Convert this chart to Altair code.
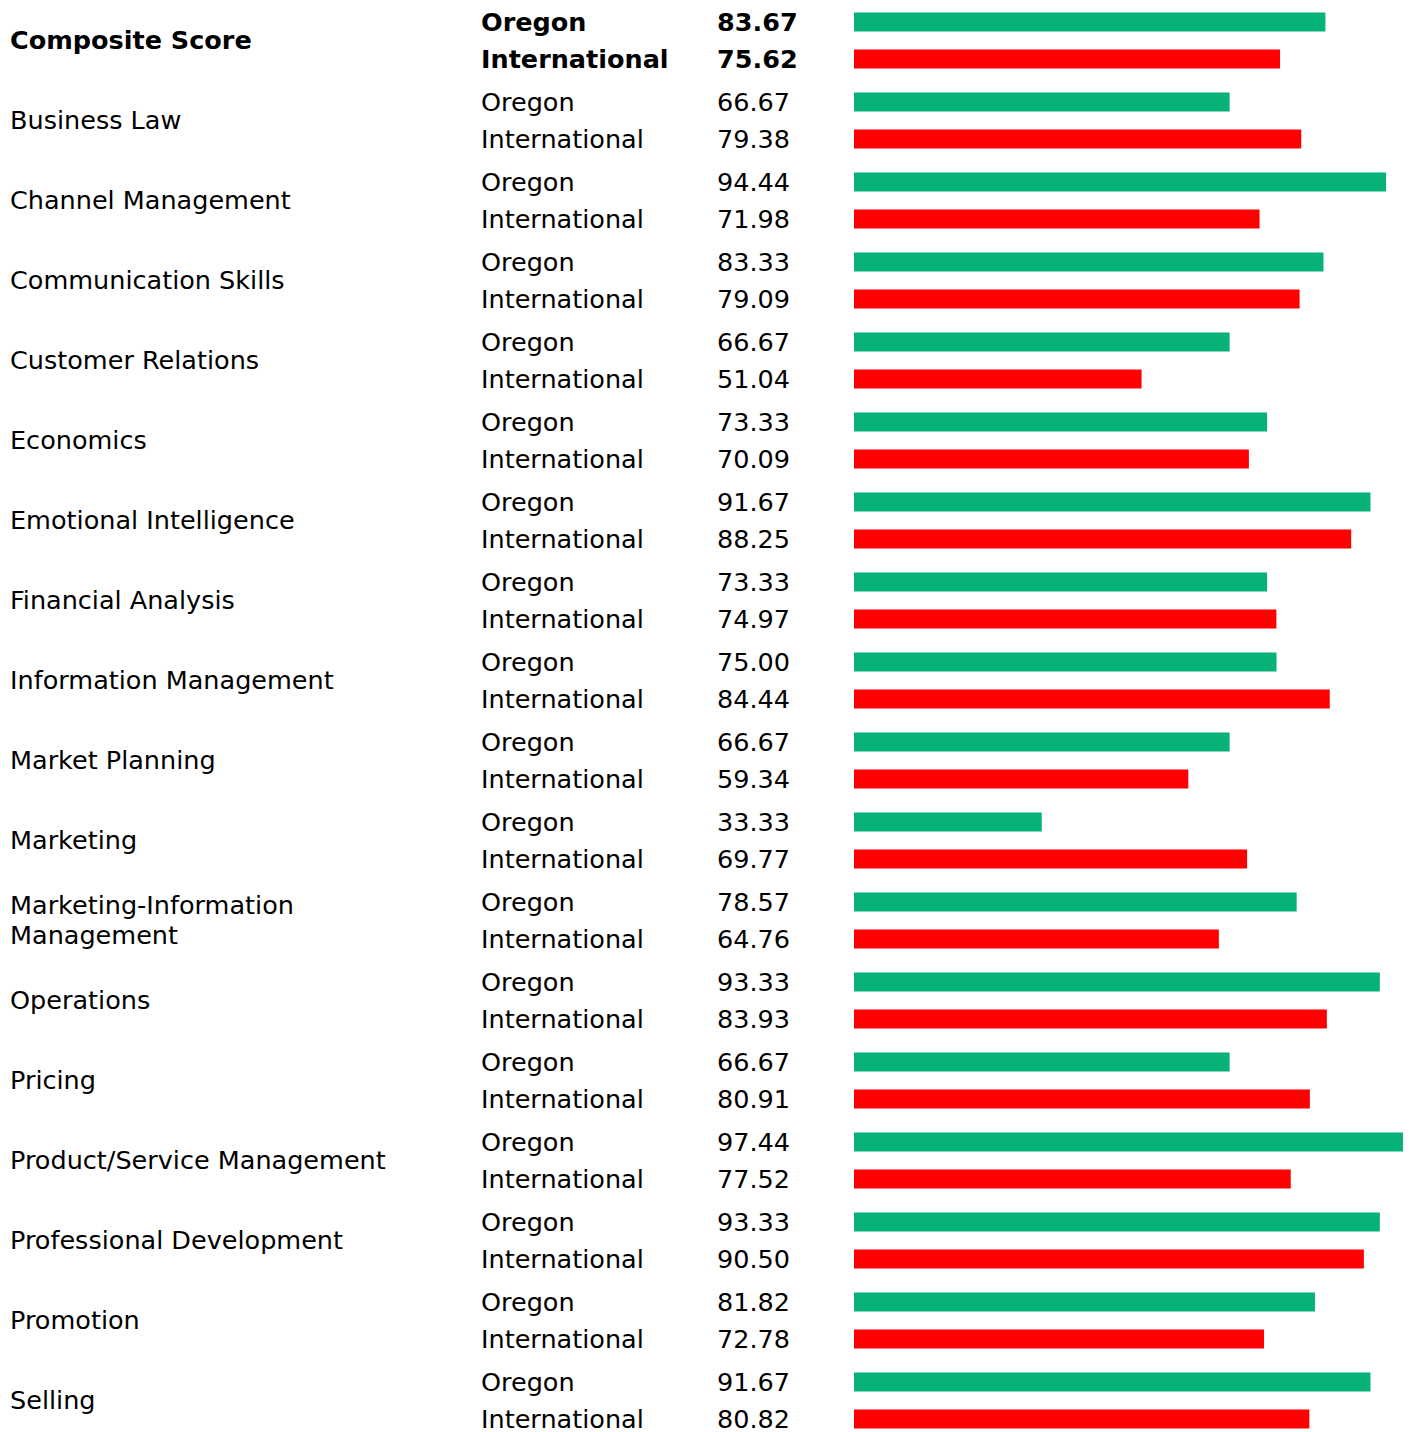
import altair as alt
import pandas as pd

categories = [
    "Composite Score", "Business Law", "Channel Management", "Communication Skills",
    "Customer Relations", "Economics", "Emotional Intelligence", "Financial Analysis",
    "Information Management", "Market Planning", "Marketing",
    "Marketing-Information\nManagement", "Operations", "Pricing",
    "Product/Service Management", "Professional Development", "Promotion", "Selling",
]
series = ["Oregon", "International"]
oregon = [83.67, 66.67, 94.44, 83.33, 66.67, 73.33, 91.67, 73.33, 75.00,
          66.67, 33.33, 78.57, 93.33, 66.67, 97.44, 93.33, 81.82, 91.67]
international = [75.62, 79.38, 71.98, 79.09, 51.04, 70.09, 88.25, 74.97, 84.44,
                 59.34, 69.77, 64.76, 83.93, 80.91, 77.52, 90.50, 72.78, 80.82]
colors = ["#06B27A", "#FF0000"]

rows = []
for i, c in enumerate(categories):
    rows.append({"category": c, "series": "Oregon", "value": oregon[i], "idx": i})
    rows.append({"category": c, "series": "International", "value": international[i], "idx": i})
df = pd.DataFrame(rows)
cat_df = pd.DataFrame({
    "category": categories,
    "idx": list(range(len(categories))),
    "multi": ["\n" in c for c in categories],
})

FONT = "DejaVu Sans"
FS = 25.5

y = alt.Y("category:N", sort=categories, axis=None,
          scale=alt.Scale(range=[-7.5, 1432.5], paddingInner=0, paddingOuter=0))
yoff = alt.YOffset("series:N", sort=series,
                   scale=alt.Scale(paddingInner=0, paddingOuter=0.081))

bars = alt.Chart(df).mark_bar(height=19).encode(
    x=alt.X("value:Q", axis=None, scale=alt.Scale(domain=[0, 100], range=[846, 1409.4])),
    y=y, yOffset=yoff,
    color=alt.Color("series:N", scale=alt.Scale(domain=series, range=colors), legend=None),
)

def txt(data, weight, filt, xpos, field, fmt=None, use_off=True, dy=1.3):
    t = alt.Text(field, format=fmt) if fmt else alt.Text(field)
    enc = dict(x=alt.value(xpos), y=y, text=t)
    if use_off:
        enc["yOffset"] = yoff
    return alt.Chart(data).transform_filter(filt).mark_text(
        align="left", baseline="middle", font=FONT, fontSize=FS, fontWeight=weight,
        color="black", lineBreak="\n", lineHeight=30, dy=dy,
    ).encode(**enc)

layers = [
    bars,
    txt(cat_df, "bold", "datum.idx == 0", 2, "category:N", use_off=False, dy=0),
    txt(cat_df, "normal", "datum.idx > 0 && !datum.multi", 2, "category:N", use_off=False, dy=0),
    txt(cat_df, "normal", "datum.multi", 2, "category:N", use_off=False, dy=-15),
    txt(df, "bold", "datum.idx == 0", 473, "series:N"),
    txt(df, "normal", "datum.idx > 0", 473, "series:N"),
    txt(df, "bold", "datum.idx == 0", 709, "value:Q", ".2f"),
    txt(df, "normal", "datum.idx > 0", 709, "value:Q", ".2f"),
]

chart = alt.layer(*layers).properties(
    width=1400, height=1424, padding=0,
    autosize=alt.AutoSizeParams(type="none"),
).configure_view(stroke=None)

chart.save("out.html", embed_options={"renderer": "svg", "actions": False})
